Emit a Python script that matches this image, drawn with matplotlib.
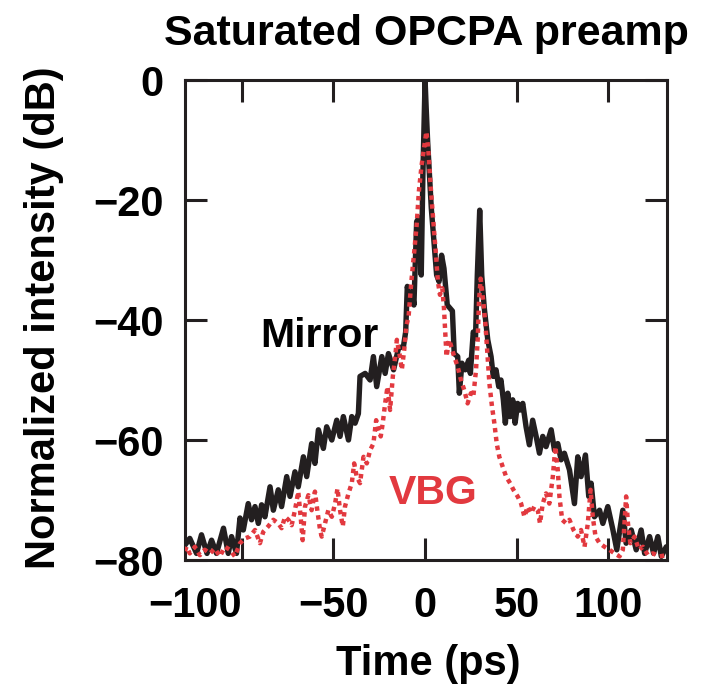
import matplotlib
matplotlib.use("Agg")
import matplotlib.pyplot as plt

plt.rcParams['font.family'] = ['Liberation Sans', 'DejaVu Sans']
plt.rcParams['font.weight'] = 'bold'

# ---------------- data ----------------
mirror_t = [-131, -128.4, -124.7, -122, -119, -116.5, -113.8, -110, -107.4, -105.6,
            -102.9, -101, -99.2, -96.5, -94.7, -92.8, -91, -89.2, -87.4, -84.6,
            -82.8, -80.1, -78.3, -75.5, -73.7, -71, -69.2, -66.4, -64.6, -61.9,
            -60.1, -58.2, -55.5, -53.7, -50.9, -48.2, -46.4, -44.6, -41.8, -40,
            -38.2, -36.4, -35.5, -32.7, -30, -28.2, -26.4, -23.6, -21.8, -20,
            -17.2, -14.5, -11.8, -10.6, -9.7, -8.1, -7, -6.1, -4.6, -3.4,
            -2.1, -1.2, 0, 0.6, 1.4, 3.4, 6.3, 7.6, 9, 10.3,
            12.1, 13.5, 14.9, 15.9, 17.8, 18.7, 20.1, 21.9, 23.8, 24.7,
            26.3, 27.5, 28.5, 29.8, 30.9, 32.3, 34.2, 36, 37.2, 38.7,
            40.2, 41.4, 42.7, 43.8, 45.1, 46.4, 47.8, 49.1, 50.5, 51.8,
            53.3, 55.1, 56.9, 58.7, 60.6, 62.4, 64.2, 66, 68.8, 70.6,
            72.4, 74.2, 76, 78.8, 81.5, 83.3, 85.1, 87.5, 89.3, 90.6,
            92.4, 95.2, 97, 99.7, 102.5, 104.6, 107.9, 109.7, 112.5, 115.2,
            117.9, 119.8, 122.5, 124.7, 127, 128.9, 131.6]
mirror_db = [-77.5, -76.4, -78.9, -75.8, -78.9, -76.7, -78.9, -74.7, -78.9, -76.1,
             -78.9, -73, -75, -70.6, -73.3, -71.1, -73.9, -70.8, -72.8, -67.8,
             -71.7, -68.3, -71.1, -66.1, -69.4, -65.3, -67.8, -62.8, -66.1, -60.6,
             -63.9, -58.3, -61.4, -57.8, -60, -56.7, -59.4, -56.1, -60, -56.1,
             -57.2, -55.6, -49.4, -48.9, -50, -46.1, -51.1, -46.1, -48.9, -45.6,
             -48.3, -44.7, -44.4, -42, -34.4, -37.2, -35.3, -37.5, -23.6, -23,
             -32.5, -15.8, 0, -4.7, -10.3, -21.4, -32.5, -33.6, -29.2, -31.4,
             -37.5, -38, -38.5, -45.6, -46.1, -52.2, -47.2, -48.3, -46.7, -48.9,
             -42, -43, -32.5, -21.7, -32.5, -38, -43.3, -46.1, -49.4, -48.3,
             -51.1, -50, -53.3, -57.2, -52.2, -56.1, -53.3, -57.2, -53.9, -55,
             -53.9, -57.8, -60.8, -56.7, -59.4, -62.2, -59.4, -61.1, -58.3, -61.7,
             -60.6, -63.3, -62.2, -65, -70.6, -62.8, -66.1, -62.5, -69.4, -67.2,
             -72.8, -71.7, -73.9, -71.1, -75, -78.3, -71.7, -77.2, -75, -78.3,
             -75, -78.9, -76.1, -78.9, -76.1, -79.4, -77.8]

vbg_t = [-131, -130.2, -128.4, -125.6, -122.9, -120.2, -117.4, -114.7, -112, -109.2,
         -106.5, -103.8, -101, -98.3, -95.6, -92.8, -90.1, -88.3, -85.6, -82.8,
         -80.1, -78.3, -76.4, -74.6, -72.8, -71, -69.2, -67.9, -66.8, -65.5,
         -63.7, -61.9, -60.1, -58.8, -57.3, -56.4, -54.6, -52.8, -50.9, -49.1,
         -47.8, -46.4, -44.9, -43.7, -41.8, -40, -38.7, -37.3, -35.5, -33.6,
         -31.8, -30, -28.2, -26.7, -25.4, -24.2, -23.1, -21.8, -20.5, -19.1,
         -17.6, -16.3, -15.4, -14, -12.7, -11.4, -10.3, -9, -7.5, -6.1,
         -4.6, -3.4, -1.9, -0.6, 0.7, 1.7, 3, 4.5, 5.8, 7,
         8.1, 9.4, 10.3, 11.7, 13.2, 15.9, 17.8, 19.6, 21.4, 23.2,
         25, 26.3, 27.8, 28.7, 29.4, 30.3, 31.8, 32.9, 34.1, 35.1,
         36.5, 37.8, 39.1, 40.5, 42.3, 44.2, 46.4, 48.2, 50.5, 52.4,
         54.2, 56, 57.8, 59.6, 61.5, 62.7, 64.2, 66, 67.8, 69.7,
         71.1, 72.4, 73.3, 74.8, 77, 78.8, 81, 83.3, 85.1, 87,
         88.8, 90.3, 91.5, 93, 95.2, 97.9, 100.6, 103.4, 106.1, 107.9,
         109.7, 110.7, 112, 114.3, 116.7, 118.9, 121.6, 124.3, 128, 131.6]
vbg_db = [-78.5, -77.8, -78.9, -77.8, -79.2, -78.3, -78.9, -78.1, -79.4, -77.8,
          -78.3, -79.4, -77.2, -76.4, -76.1, -75, -77.2, -75.3, -74.4, -73.3,
          -73.9, -74.7, -72.8, -73.3, -74.2, -71.7, -68.6, -72.8, -76.7, -71.1,
          -69.2, -71.7, -68.6, -71.7, -75, -76.1, -73.9, -71.7, -72.8, -70.6,
          -68.1, -71.7, -74.4, -71.1, -68.9, -67.2, -63.9, -66.1, -67.2, -62.8,
          -63.9, -61.7, -60.6, -56.7, -58.3, -59.4, -57.2, -53.9, -51.1, -55,
          -49.4, -46.1, -43.3, -45.6, -48.3, -45, -41.1, -39.4, -33.6, -29.2,
          -24.2, -18.6, -14.2, -11.4, -8.6, -11.4, -17.5, -23.6, -28.6, -33.6,
          -35.8, -34.7, -38, -46.1, -43.3, -46.1, -47.8, -50, -51.7, -53.9,
          -52.2, -52.8, -48.3, -43.3, -37, -33.1, -37, -40.6, -46.1, -50.6,
          -54.4, -57.2, -60.6, -62.8, -64.4, -66.1, -67.2, -68.3, -69.4, -70.6,
          -72.8, -71.1, -72.2, -71.1, -71.7, -73.9, -70.6, -68.9, -70.6, -66.1,
          -61.1, -65, -69.4, -73.3, -73.9, -73.3, -75, -76.1, -75, -77.8,
          -73.9, -68.3, -72.8, -76.1, -77.2, -77.8, -78.3, -78.9, -79.4, -78.3,
          -69.4, -73.9, -77.2, -76.1, -78.3, -77.8, -79.2, -78.9, -79.4, -79.2]

x_ticks = [-100, -50, 0, 50, 100]
x_ticklabels = ['\u2212100', '\u221250', '0', '50', '100']
y_ticks = [0, -20, -40, -60, -80]
y_ticklabels = ['0', '\u221220', '\u221240', '\u221260', '\u221280']

title = 'Saturated OPCPA preamp'
xlabel = 'Time (ps)'
ylabel = 'Normalized intensity (dB)'

# ---------------- styling ----------------
BLACK = '#231F20'
RED = '#E2393F'
FS = 30

fig = plt.figure(figsize=(7.04, 6.87), dpi=100)
ax = fig.add_axes([185 / 704, 127 / 687, 482 / 704, 480 / 687])

ax.plot(mirror_t, mirror_db, color=BLACK, lw=3.9, solid_joinstyle='round',
        solid_capstyle='round', zorder=2)
ax.plot(vbg_t, vbg_db, color=RED, lw=3.2, linestyle=(0, (1.0, 1.0)),
        dash_capstyle='butt', zorder=3)

ax.set_xlim(-131, 132)
ax.set_ylim(-80, 0)

ax.set_xticks(x_ticks)
ax.set_xticklabels(x_ticklabels)
ax.set_yticks(y_ticks)
ax.set_yticklabels(y_ticklabels)
ax.get_xticklabels()[0].set_ha('right')

ax.tick_params(axis='both', direction='in', length=16, width=2.2, color=BLACK,
               labelsize=FS, top=True, right=True)
ax.tick_params(axis='x', pad=19)
ax.tick_params(axis='y', pad=15.5)
for lab in ax.get_xticklabels() + ax.get_yticklabels():
    lab.set_fontweight('bold')

for sp in ax.spines.values():
    sp.set_linewidth(2.2)
    sp.set_color(BLACK)

ax.set_title(title, fontsize=FS + 1, fontweight='bold', pad=25)
fig.text(428 / 704, 1 - 675 / 687, xlabel, fontsize=FS, fontweight='bold',
         ha='center', va='baseline')
fig.text(44 / 704, 1 - 318 / 687, ylabel, fontsize=FS, fontweight='bold',
         rotation=90, ha='center', va='center')

ax.text(-57.7, -44.5, 'Mirror', fontsize=FS - 0.5, fontweight='bold',
        color='black', ha='center', va='baseline')
ax.text(4.6, -70.7, 'VBG', fontsize=FS - 0.5, fontweight='bold',
        color=RED, ha='center', va='baseline')

fig.savefig('out.png', dpi=100)
